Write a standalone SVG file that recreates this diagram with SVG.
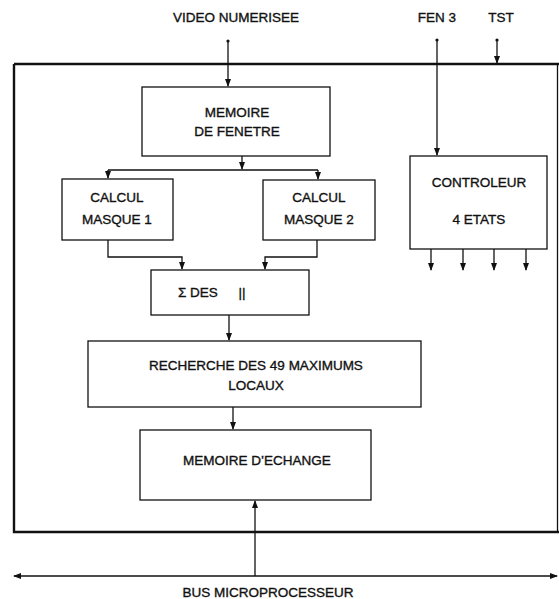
<svg xmlns="http://www.w3.org/2000/svg" width="559" height="599" viewBox="0 0 559 599">
<defs>
<style>
text{font-family:"Liberation Sans",Arial,sans-serif;font-size:13.5px;fill:#111;stroke:#111;stroke-width:0.35;text-anchor:middle}
.box{fill:#fff;stroke:#111;stroke-width:1.3}
.ln{fill:none;stroke:#111;stroke-width:1.3}
.frame{fill:none;stroke:#111;stroke-width:2.4}
</style>
<marker id="ah" markerWidth="8" markerHeight="10" refX="7" refY="4" orient="auto" markerUnits="userSpaceOnUse">
<path d="M0,1 L8,4 L0,7 Z" fill="#111"/>
</marker>
</defs>
<rect width="559" height="599" fill="#fff"/>
<g id="frame">
<path class="frame" d="M14,64 L559,64 M14,64 L14,532 L559,532"/>
<path class="ln" d="M557.5,64 L557.5,532" stroke-width="0.8" stroke="#666"/>
</g>
<g id="labels">
<text x="236" y="22">VIDEO NUMERISEE</text>
<text x="437" y="22">FEN 3</text>
<text x="501" y="22">TST</text>
<text x="268" y="597">BUS MICROPROCESSEUR</text>
</g>
<g id="memoire-fenetre">
<rect class="box" x="142" y="87" width="188" height="69"/>
<text x="237" y="117">MEMOIRE</text>
<text x="237" y="136">DE FENETRE</text>
</g>
<g id="calcul-masque-1">
<rect class="box" x="62" y="179" width="111" height="61"/>
<text x="117" y="202">CALCUL</text>
<text x="117" y="224">MASQUE 1</text>
</g>
<g id="calcul-masque-2">
<rect class="box" x="263" y="180" width="112" height="60"/>
<text x="319" y="202">CALCUL</text>
<text x="319" y="224">MASQUE 2</text>
</g>
<g id="controleur">
<rect class="box" x="410" y="156" width="137" height="93"/>
<text x="479" y="187">CONTROLEUR</text>
<text x="479" y="224">4 ETATS</text>
</g>
<g id="somme">
<rect class="box" x="151" y="270" width="158" height="45"/>
<text x="178" y="297" style="text-anchor:start">Σ DES</text>
<text x="242" y="297">||</text>
</g>
<g id="recherche">
<rect class="box" x="88" y="341" width="333" height="66"/>
<text x="256" y="370">RECHERCHE DES 49 MAXIMUMS</text>
<text x="256" y="390">LOCAUX</text>
</g>
<g id="memoire-echange">
<rect class="box" x="140" y="430" width="231" height="70"/>
<text x="257" y="465">MEMOIRE D’ECHANGE</text>
</g>
<g id="connectors">
<circle cx="228" cy="41" r="1.6" fill="#111"/>
<circle cx="437" cy="40" r="1.6" fill="#111"/>
<circle cx="497" cy="40" r="1.6" fill="#111"/>
<path class="ln" d="M228,41 L228,86" marker-end="url(#ah)"/>
<path class="ln" d="M437,40 L437,155" marker-end="url(#ah)"/>
<path class="ln" d="M497,40 L497,63" marker-end="url(#ah)"/>
<path class="ln" d="M242,156 L242,169" marker-end="url(#ah)"/>
<path class="ln" d="M108,170 L318,170"/>
<path class="ln" d="M108,170 L108,178" marker-end="url(#ah)"/>
<path class="ln" d="M318,170 L318,179" marker-end="url(#ah)"/>
<path class="ln" d="M108,240 L108,257 L182,257 L182,269" marker-end="url(#ah)"/>
<path class="ln" d="M317,240 L317,257 L265,257 L265,269" marker-end="url(#ah)"/>
<path class="ln" d="M229,315 L229,340" marker-end="url(#ah)"/>
<path class="ln" d="M233,407 L233,429" marker-end="url(#ah)"/>
<path class="ln" d="M431,249 L431,270" marker-end="url(#ah)"/>
<path class="ln" d="M463,249 L463,270" marker-end="url(#ah)"/>
<path class="ln" d="M494,249 L494,270" marker-end="url(#ah)"/>
<path class="ln" d="M526,249 L526,270" marker-end="url(#ah)"/>
<path class="ln" d="M255,576 L255,501" marker-end="url(#ah)"/>
<path class="ln" d="M255,576 L14,576" marker-end="url(#ah)"/>
<path class="ln" d="M255,576 L557,576" marker-end="url(#ah)"/>
</g>
</svg>
